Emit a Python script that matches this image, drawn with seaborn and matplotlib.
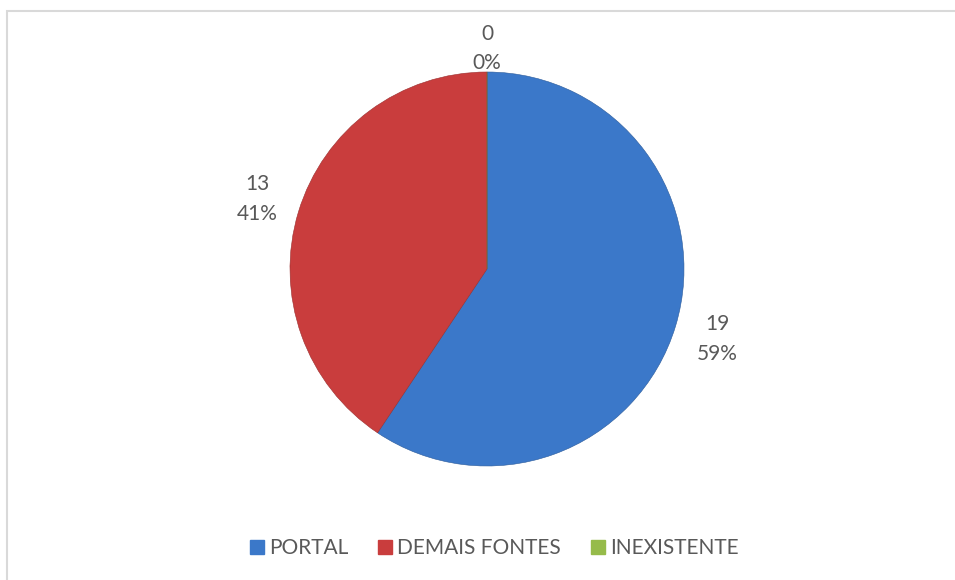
import seaborn as sns
import matplotlib.pyplot as plt
from matplotlib.patches import Rectangle

categorias = ['PORTAL', 'DEMAIS FONTES', 'INEXISTENTE']
valores = [19, 13, 0]
cores = ['#3b78c9', '#c93d3d', '#96bb4a']

sns.set_style("white")
plt.rcParams['font.family'] = ['Lato', 'DejaVu Sans']

fig = plt.figure(figsize=(9.55, 5.8), dpi=100)
W, H = 955, 580

# moldura cinza do gráfico (continua além da borda direita e inferior)
fig.patches.append(Rectangle((7 / W, -0.5), 1.5, 1.5 - 11 / H, transform=fig.transFigure,
                             fill=False, edgecolor='#d9d9d9', linewidth=1.5))

r = 197
cx, cy = 487, 269
ax = fig.add_axes([(cx - 1.25 * r) / W, (H - cy - 1.25 * r) / H, 2.5 * r / W, 2.5 * r / H])

total = sum(valores)
rotulos = [f"{v}\n{round(100 * v / total)}%" for v in valores]

wedges, textos = ax.pie(valores, colors=cores, startangle=90, counterclock=False,
                        labels=rotulos, labeldistance=1.22,
                        wedgeprops=dict(linewidth=0.4),
                        textprops=dict(fontsize=15, color='#595959', ha='center',
                                       va='center', linespacing=1.6))
for w, c in zip(wedges, ['#2a5a9a', '#9a2d2d', '#6f8f30']):
    w.set_edgecolor(c)
textos[2].set_position((0, 1.12))
ax.set_aspect('equal')

handles = [plt.Line2D([], [], marker='s', linestyle='', markersize=10,
                      markerfacecolor=c, markeredgecolor=c) for c in cores]
fig.legend(handles, categorias, loc='center', bbox_to_anchor=(493 / W, 1 - 548 / H),
           ncol=3, frameon=False, fontsize=15, handletextpad=0.15,
           columnspacing=1.3, labelcolor='#595959', handlelength=0.9)

plt.savefig('out.png', dpi=100)
plt.close()
